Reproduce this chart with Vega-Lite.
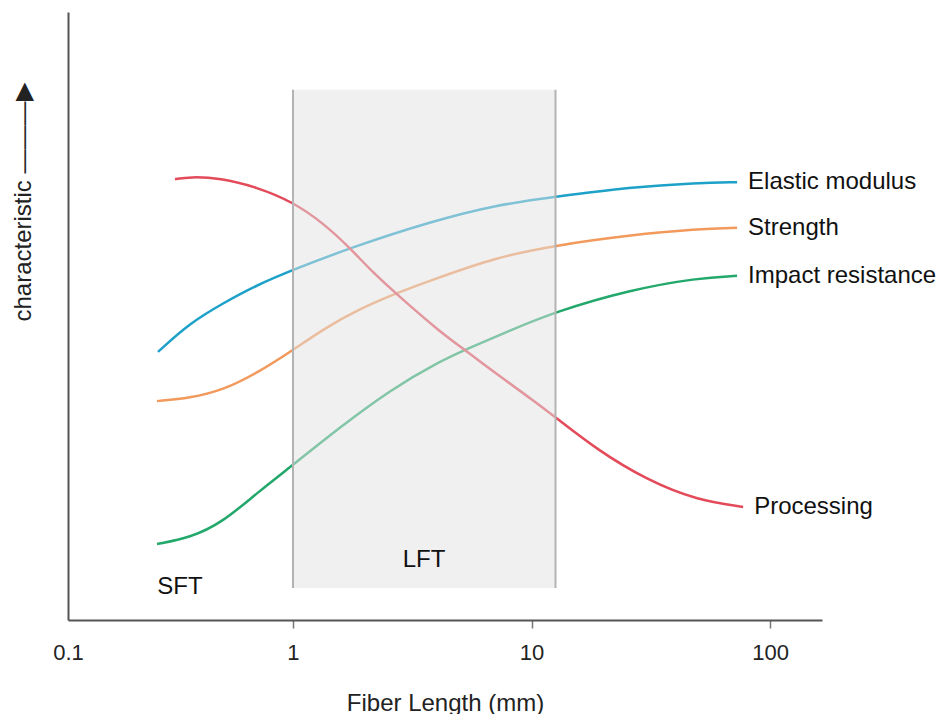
{
  "$schema": "https://vega.github.io/schema/vega-lite/v6.json",
  "width": 754,
  "height": 608,
  "autosize": {"type": "none"},
  "padding": {"left": 68, "top": 12, "right": 117, "bottom": 94},
  "background": "white",
  "config": {"view": {"stroke": null}, "font": "Liberation Sans"},
  "datasets": {
    "curves": [
      {"s": "Elastic modulus", "x": 0.2716, "y": 44.1},
      {"s": "Elastic modulus", "x": 0.3698, "y": 48.85},
      {"s": "Elastic modulus", "x": 0.5086, "y": 52.1},
      {"s": "Elastic modulus", "x": 0.7064, "y": 55.1},
      {"s": "Elastic modulus", "x": 1, "y": 57.6},
      {"s": "Elastic modulus", "x": 1.734, "y": 61.2},
      {"s": "Elastic modulus", "x": 3.753, "y": 65.5},
      {"s": "Elastic modulus", "x": 7.168, "y": 68.3},
      {"s": "Elastic modulus", "x": 12.55, "y": 69.6},
      {"s": "Elastic modulus", "x": 25.88, "y": 71.2},
      {"s": "Elastic modulus", "x": 49.43, "y": 71.9},
      {"s": "Elastic modulus", "x": 72.7, "y": 72.0},
      {"s": "Strength", "x": 0.2691, "y": 36.0},
      {"s": "Strength", "x": 0.3698, "y": 36.5},
      {"s": "Strength", "x": 0.5086, "y": 37.8},
      {"s": "Strength", "x": 0.7064, "y": 40.6},
      {"s": "Strength", "x": 1, "y": 44.4},
      {"s": "Strength", "x": 1.336, "y": 47.8},
      {"s": "Strength", "x": 1.855, "y": 51.0},
      {"s": "Strength", "x": 2.81, "y": 54.0},
      {"s": "Strength", "x": 3.753, "y": 55.8},
      {"s": "Strength", "x": 7.168, "y": 59.7},
      {"s": "Strength", "x": 12.55, "y": 61.6},
      {"s": "Strength", "x": 25.88, "y": 63.3},
      {"s": "Strength", "x": 49.43, "y": 64.3},
      {"s": "Strength", "x": 72.7, "y": 64.5},
      {"s": "Impact resistance", "x": 0.2691, "y": 12.5},
      {"s": "Impact resistance", "x": 0.3698, "y": 13.5},
      {"s": "Impact resistance", "x": 0.5086, "y": 16.1},
      {"s": "Impact resistance", "x": 0.7064, "y": 20.9},
      {"s": "Impact resistance", "x": 1, "y": 25.5},
      {"s": "Impact resistance", "x": 1.574, "y": 31.7},
      {"s": "Impact resistance", "x": 2.551, "y": 37.8},
      {"s": "Impact resistance", "x": 4.134, "y": 42.6},
      {"s": "Impact resistance", "x": 5.684, "y": 45.0},
      {"s": "Impact resistance", "x": 7.895, "y": 47.4},
      {"s": "Impact resistance", "x": 12.55, "y": 50.7},
      {"s": "Impact resistance", "x": 25.88, "y": 54.3},
      {"s": "Impact resistance", "x": 49.43, "y": 56.25},
      {"s": "Impact resistance", "x": 72.7, "y": 56.6},
      {"s": "Processing", "x": 0.32, "y": 72.5},
      {"s": "Processing", "x": 0.3698, "y": 72.9},
      {"s": "Processing", "x": 0.4942, "y": 72.7},
      {"s": "Processing", "x": 0.7064, "y": 71.2},
      {"s": "Processing", "x": 1, "y": 68.75},
      {"s": "Processing", "x": 1.336, "y": 65.3},
      {"s": "Processing", "x": 1.734, "y": 61.2},
      {"s": "Processing", "x": 2.165, "y": 57.1},
      {"s": "Processing", "x": 2.81, "y": 53.1},
      {"s": "Processing", "x": 4.134, "y": 47.4},
      {"s": "Processing", "x": 5.013, "y": 45.0},
      {"s": "Processing", "x": 7.895, "y": 39.2},
      {"s": "Processing", "x": 9.856, "y": 36.5},
      {"s": "Processing", "x": 12.55, "y": 33.4},
      {"s": "Processing", "x": 18.82, "y": 28.0},
      {"s": "Processing", "x": 30.5, "y": 23.0},
      {"s": "Processing", "x": 49.43, "y": 19.7},
      {"s": "Processing", "x": 77.07, "y": 18.6}
    ],
    "band": [{"x": 1, "x2": 12.6, "y": 5.26, "y2": 87.2}],
    "edges": [
      {"x": 1, "y": 5.26, "y2": 87.2},
      {"x": 12.6, "y": 5.26, "y2": 87.2}
    ],
    "ends": [
      {"label": "Elastic modulus", "x": 72.7, "y": 72.0},
      {"label": "Strength", "x": 72.7, "y": 64.5},
      {"label": "Impact resistance", "x": 72.7, "y": 56.6},
      {"label": "Processing", "x": 77.07, "y": 18.6}
    ],
    "regions": [
      {"label": "SFT", "x": 0.336, "y": 5.43},
      {"label": "LFT", "x": 3.542, "y": 9.87}
    ]
  },
  "layer": [
    {
      "data": {"name": "curves"},
      "mark": {"type": "line", "interpolate": "basis", "strokeWidth": 2.5},
      "encoding": {
        "x": {
          "field": "x",
          "type": "quantitative",
          "scale": {"type": "log", "domain": [0.114, 165], "nice": false},
          "axis": {
            "title": "Fiber Length (mm)",
            "values": [0.114, 1, 10, 100],
            "labelExpr": "datum.value < 0.5 ? '0.1' : format(datum.value, '~g')",
            "grid": false,
            "domainColor": "#555555",
            "domainWidth": 2,
            "tickColor": "#777777",
            "tickWidth": 1.5,
            "tickSize": 8,
            "tickOpacity": {"condition": {"test": "datum.value < 0.5", "value": 0}, "value": 1},
            "labelFontSize": 22,
            "labelColor": "#222222",
            "labelPadding": 14,
            "labelFlush": false,
            "labelOverlap": false,
            "titleFontSize": 24,
            "titleFontWeight": "normal",
            "titleColor": "#222222",
            "titlePadding": 28
          }
        },
        "y": {
          "field": "y",
          "type": "quantitative",
          "scale": {"domain": [0, 100], "nice": false, "zero": false},
          "axis": {
            "title": "characteristic  ———▶",
            "ticks": false,
            "labels": false,
            "grid": false,
            "domainColor": "#555555",
            "domainWidth": 2,
            "titleFontSize": 24,
            "titleFontWeight": "normal",
            "titleColor": "#222222",
            "titleAngle": 270,
            "titleAlign": "center",
            "titleBaseline": "alphabetic",
            "titleX": -38,
            "titleY": 190
          }
        },
        "color": {
          "field": "s",
          "type": "nominal",
          "scale": {
            "domain": ["Elastic modulus", "Strength", "Impact resistance", "Processing"],
            "range": ["#1da1c9", "#f2995c", "#23a86c", "#e34a5a"]
          },
          "legend": null
        }
      }
    },
    {
      "data": {"name": "band"},
      "mark": {"type": "rect", "fill": "#e1e1e1", "opacity": 0.5},
      "encoding": {
        "x": {"field": "x", "type": "quantitative"},
        "x2": {"field": "x2"},
        "y": {"field": "y", "type": "quantitative"},
        "y2": {"field": "y2"}
      }
    },
    {
      "data": {"name": "edges"},
      "mark": {"type": "rule", "color": "#b3b3b3", "strokeWidth": 2},
      "encoding": {
        "x": {"field": "x", "type": "quantitative"},
        "y": {"field": "y", "type": "quantitative"},
        "y2": {"field": "y2"}
      }
    },
    {
      "data": {"name": "ends"},
      "mark": {"type": "text", "align": "left", "baseline": "middle", "dx": 11, "fontSize": 24, "color": "#111111", "font": "Liberation Sans"},
      "encoding": {
        "x": {"field": "x", "type": "quantitative"},
        "y": {"field": "y", "type": "quantitative"},
        "text": {"field": "label"}
      }
    },
    {
      "data": {"name": "regions"},
      "mark": {"type": "text", "align": "center", "baseline": "middle", "fontSize": 24, "color": "#111111", "font": "Liberation Sans"},
      "encoding": {
        "x": {"field": "x", "type": "quantitative"},
        "y": {"field": "y", "type": "quantitative"},
        "text": {"field": "label"}
      }
    }
  ]
}
